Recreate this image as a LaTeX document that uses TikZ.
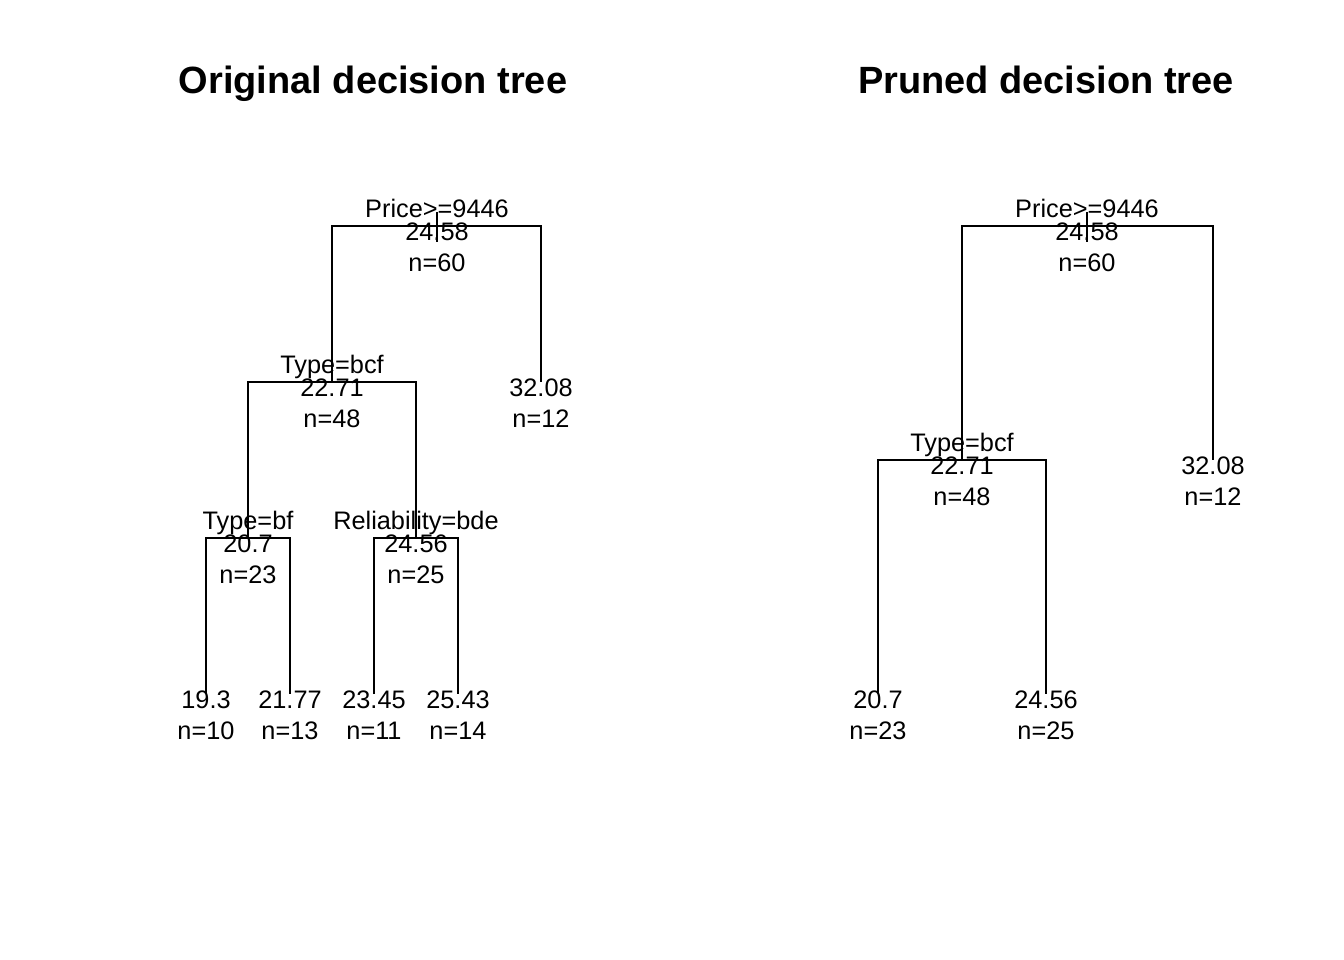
\documentclass[tikz,border=0pt]{standalone}
\usepackage{fontspec}
\setmainfont{Liberation Sans}
\usetikzlibrary{calc}
\tikzset{
  edge/.style={line width=0.6pt},
  titletext/.style={anchor=base, inner sep=0pt, font=\fontsize{10.8}{13}\selectfont\bfseries},
  splitlab/.style={anchor=base, inner sep=0pt, font=\fontsize{7.2}{8.6}\selectfont},
  valtext/.style={anchor=base, inner sep=0pt, font=\fontsize{7.2}{8.6}\selectfont}
}
\begin{document}
\begin{tikzpicture}[x=0.01cm,y=-0.01cm]
\path[use as bounding box] (0,0) rectangle (1344,960);
% titles
\node[titletext] (t1) at (373,93) {Original decision tree};
\node[titletext] (t2) at (1046,93) {Pruned decision tree};
% original tree
\coordinate (o1) at (437,226);
\coordinate (o2) at (332,382);
\coordinate (o3) at (541,382);
\coordinate (o4) at (248,538);
\coordinate (o5) at (416,538);
\coordinate (o8) at (206,694);
\coordinate (o9) at (290,694);
\coordinate (o10) at (374,694);
\coordinate (o11) at (458,694);
\draw[edge] (o2) |- (o1) -| (o3);
\draw[edge] (o4) |- (o2) -| (o5);
\draw[edge] (o8) |- (o4) -| (o9);
\draw[edge] (o10) |- (o5) -| (o11);
\draw[edge] ($(o1)+(0,-14)$) -- ($(o1)+(0,16)$);
% pruned tree
\coordinate (p1) at (1087,226);
\coordinate (p2) at (962,460);
\coordinate (p3) at (1213,460);
\coordinate (p4) at (878,694);
\coordinate (p5) at (1046,694);
\draw[edge] (p2) |- (p1) -| (p3);
\draw[edge] (p4) |- (p2) -| (p5);
\draw[edge] ($(p1)+(0,-14)$) -- ($(p1)+(0,16)$);
% split labels
\foreach \c/\s in {o1/Price>=9446, o2/Type=bcf, o4/Type=bf, o5/Reliability=bde,
                   p1/Price>=9446, p2/Type=bcf}
  \node[splitlab] (\c s) at ($(\c)+(0,-9)$) {\s};
% fitted values and counts
\foreach \c/\v/\n in {o1/24.58/60, o2/22.71/48, o3/32.08/12, o4/20.7/23, o5/24.56/25,
                      o8/19.3/10, o9/21.77/13, o10/23.45/11, o11/25.43/14,
                      p1/24.58/60, p2/22.71/48, p3/32.08/12, p4/20.7/23, p5/24.56/25}
{
  \node[valtext] (\c v) at ($(\c)+(0,14)$) {\v};
  \node[valtext] (\c n) at ($(\c)+(0,45)$) {n=\n};
}
\end{tikzpicture}
\end{document}
